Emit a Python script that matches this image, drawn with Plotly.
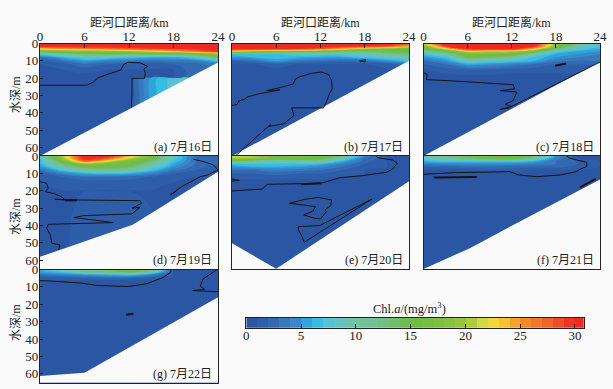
import plotly.graph_objects as go

W, H = 613, 389
FONT = "Liberation Serif, Noto Sans CJK SC"
BG = "#fafafa"

stations = [0, 3, 6, 9, 12, 15, 18, 21, 24]
depths = [0, 1.5, 3, 4.5, 6, 8, 10, 12, 15, 19.6, 20.2, 30, 65]
x_ticks = [0, 6, 12, 18, 24]
y_ticks = [0, 10, 20, 30, 40, 50, 60]
bar_ticks = [0, 5, 10, 15, 20, 25, 30]
bar_levels = [i + 0.5 for i in range(31)]

chl_a = [
    [31]*9, [31]*9,
    [23, 25, 26, 27, 28, 29, 30, 30, 31],
    [16, 17, 18, 18, 20, 22, 24, 27, 30],
    [8, 11, 13, 14, 13, 14, 14, 15, 19],
    [3, 6, 8, 8, 7, 6, 6, 8, 14],
    [1.5, 3, 5.5, 4, 3.5, 3, 3.5, 4, 7],
    [1, 1.5, 2.8, 2, 1.5, 1.5, 2, 2.5, 4],
    [1, 1, 1.5, 1, 1, 1, 1, 3, 3],
    [.5, .5, .5, .5, .5, .5, 1, 3, 3],
    [.5, .5, .5, .5, .8, 5.5, 7.5, 9, 10],
    [.5, .5, .5, .5, .8, 5.5, 7.5, 9, 10],
    [.5, .5, .5, .5, .8, 5.5, 7.5, 9, 10],
]
chl_b = [
    [31, 31, 31, 31, 31, 31, 31, 30, 28],
    [31, 31, 31, 31, 31, 31, 30, 29, 24],
    [31, 31, 31, 30, 28, 24, 20, 18, 16],
    [22, 20, 18, 16, 16, 14, 13, 15, 15],
    [7, 7, 7, 8, 8, 8, 9, 11, 13],
    [5, 6, 6.5, 6, 5.5, 5.5, 7, 8, 9],
    [2, 3, 5.5, 3.5, 3, 2.5, 3, 5, 7],
    [1, 1, 1.5, 1, 1, 1, 1, 1.5, 3],
    [.8]*9, [.5]*9, [.5]*9, [.5]*9, [.5]*9,
]
chl_c = [
    [22, 31, 31, 31, 31, 31, 19, 12, 7],
    [17, 30, 31, 31, 31, 31, 18, 10, 7],
    [15, 22, 31, 31, 31, 24, 14, 8, 6],
    [11, 15, 22, 21, 21, 17, 8, 6, 5],
    [7, 10, 17, 17, 16, 10, 6, 5, 4],
    [5, 7, 14, 13, 11, 7, 5, 4, 3.5],
    [3, 5, 9, 8, 7.5, 6, 3.5, 3, 3],
    [2, 3, 5.5, 5, 4, 3, 2, 2, 2],
    [1, 1.5, 2, 2, 1.5, 1.5, 1.5, 1.5, 1.5],
    [.5]*9, [.5]*9, [.5]*9, [.5]*9,
]
chl_d = [
    [8, 20, 31, 31, 24, 17, 8, 3, 2],
    [7, 19, 31, 28, 21, 16, 8, 3, 2],
    [6, 16, 27, 22, 17, 13, 7, 3, 2],
    [6, 13, 19, 17, 16, 11, 6, 3, 2],
    [5, 10, 15, 15, 14, 9, 5, 2.5, 1.5],
    [3, 7, 11, 12, 11, 7, 3.5, 2, 1],
    [1.5, 4, 6, 6.5, 6, 4, 2, 1.5, 1],
    [1, 2, 3, 3, 2.5, 2, 1.5, 1, 1],
    [1, 1.2, 1.5, 1.5, 1.5, 1.5, 1, 1, 1],
    [1]*9, [1]*9,
    [.8, .8, 1.2, 1.2, 1.2, 1, 1, 1, 1],
    [.8, .8, 1.5, 1.5, 1.5, 1, 1, 1, 1],
]
chl_e = [
    [22, 21, 17, 17, 16, 13, 4, 1, 1],
    [20, 19, 16, 16, 15, 9, 3, 1, 1],
    [13, 11, 9, 10, 11, 6, 2.5, 1, 1],
    [7, 7, 7, 7, 6.5, 4, 2, 1, 1],
    [5, 6, 6, 5.5, 4.5, 3, 1.5, 1, 1],
    [3, 3, 4, 3.5, 3, 2, 1, 1, 1],
    [2, 2, 2.5, 2, 2, 1.5, 1, 1, 1],
    [1.5, 1.5, 1.5, 1.5, 1.5, 1, 1, 1, 1],
    [.5]*9, [.5]*9, [.5]*9, [.5]*9, [.5]*9,
]
chl_f = [
    [9, 12, 14, 16, 17, 14, 5, 1, 1],
    [8, 11, 13, 15, 15, 11, 4, 1, 1],
    [6, 7, 7, 7, 7, 6, 3, 2, 1],
    [4, 4.5, 4.5, 4.5, 4.5, 4, 3, 2, 1],
    [2, 2.5, 3, 3, 2.5, 2.5, 2.5, 1.5, 1],
    [1, 1, 1, 1.5, 1.5, 1, 1, 1, 1],
    [.5]*9, [.5]*9, [.5]*9, [.5]*9, [.5]*9, [.5]*9, [.5]*9,
]
chl_g = [
    [6, 9, 12, 14, 16, 14, 1, 1, 1],
    [5.5, 7, 10, 12, 14, 10, 1, 1, 1],
    [3, 4, 5, 6, 7, 4, 1, 1, 1],
    [1.5, 2, 2.5, 3, 3, 2, 1, 1, 1],
    [1]*9,
    [.5]*9, [.5]*9, [.5]*9, [.5]*9, [.5]*9, [.5]*9, [.5]*9, [.5]*9,
]

bottom_a = ([0, 24], [65, 11])
bottom_b = ([0, 24], [65, 10])
bottom_c = ([0, 24], [65, 10.5])
bottom_d = ([0, 12.5, 24], [58, 39.6, 9])
bottom_e = ([0, 6, 24], [50.2, 64.8, 14.5])
bottom_f = ([0, 6.3, 11.8, 24], [65, 53, 40.6, 13.5])
bottom_g = ([0, 6, 24], [61.3, 59.4, 15.9])

# isoline traces: (km, depth, stroke)
lines_a = [
    ([0, 6.3, 7.2, 7.75, 9, 10.9, 11.3, 11.9, 13.5, 14.2, 14.5, 14, 14.2, 14.1, 12.4, 12.4, 12.3],
     [24.1, 24.1, 22.4, 20, 18, 15.3, 12, 10.9, 11.2, 12.3, 13.2, 14.8, 17.2, 20.1, 20.1, 29, 37], 1),
]
lines_b = [
    ([0, .7, .9, 1.8, 2, 3.6, 6.5, 4.7, 6.3, 8.3, 8.6, 9.2, 10.8, 12.2, 13.1, 13.5, 13.6, 13.2, 12.8, 12.4, 8.1, 8.4, 7, 5, 5.2, .45],
     [35.8, 35.2, 33.3, 32, 31, 29.1, 26.8, 27.2, 25.7, 23.4, 20.5, 19.2, 17.2, 16.5, 18, 21.5, 26.2, 29.1, 33.9, 37.2, 37.2, 41.6, 46.4, 47.9, 46.8, 65], 1),
    ([17.3, 18.1, 18, 17.3], [10, 9.2, 10.7, 10], 1),
]
lines_c = [
    ([0, .5, .4, 3.5, 12.2, 12.4, 10.4, 12.7, 12.2, 11.1, 12, 10.4, 11.7],
     [16.7, 18, 20.9, 21.5, 23.8, 26.2, 27.2, 28.1, 32.9, 35.2, 36.4, 38.1, 37.2], 1),
    ([17.9, 19.4], [12.8, 11.5], 2),
    ([11.7, 24], [37, 10.7], 1),
]
lines_d = [
    ([0, .9, 1.1, .7, 1.8, 2.9, 3.4, 2, 5, 13.5, 13.7, 12.4, 13.5, 12.4, 5.9, 4.6, 9.9, 5.4, 1.1, .9, 1.4, 1.6, 2.7, 2.5],
     [14.8, 15.7, 18.6, 20.5, 21.5, 23.4, 25.3, 24.9, 25.3, 25.7, 27.2, 30.1, 29.5, 33.3, 34.3, 35.4, 38.3, 38.7, 39.3, 41.6, 45.4, 50.2, 51.2, 54], 1),
    ([20.7, 22.1, 23.4, 23.9, 24], [1.9, 3.3, 5.2, 7.1, 8], 1),
    ([24, 22.6, 21.6, 20.3, 19.1, 17.6, 18.5, 18], [8, 10.9, 11.9, 14.8, 17.6, 22.4, 19.5, 21.5], 1),
    ([3.4, 5], [25.5, 25.5], 2),
]
lines_e = [
    ([0, 2.4, 4.1, 4.8, 9.4, 12.1, 14.6, 17.7, 20.9, 21.8, 22.4, 21.8, 19.8, 19.5],
     [20.1, 19.5, 19, 16.3, 15.7, 15.7, 12.5, 11.3, 9.4, 7.5, 4.2, 2.3, 1, 0], 1),
    ([9.4, 12.1], [16.3, 15.7], 2),
    ([0, 1, 0], [13.2, 14, 14.4], 1),
    ([7.8, 9.9, 11.7, 13.5, 13.4, 12.6, 12.8, 12, 11.2, 9.7, 11, 11.3, 7.8],
     [27.2, 24.9, 23.8, 25.3, 28.5, 31, 32, 36.2, 35.8, 33.9, 31.6, 29.1, 27.2], 1),
    ([19, 9.8, 9.4, 9, 9, 11.9, 19], [24.7, 49.6, 45.4, 42.5, 40.6, 40, 24.7], 1),
]
lines_f = [
    ([0, 4.1, 11.8, 12.9, 15.4, 18.6, 20.8, 21.3, 22.2, 22.2, 20.8, 19.7, 19.5],
     [10.5, 9.6, 9, 10.9, 11.9, 10.9, 9, 7.5, 6.1, 3.6, 2.3, 1, 0], 1),
    ([1.4, 7.3], [12.3, 12.1], 2),
    ([21.3, 23.4], [18, 13.2], 2),
]
lines_g = [
    ([0, 5.4, 7.7, 11.9, 14.4, 16.7, 17.6, 17.7], [6.3, 7.7, 9.2, 9.8, 8.2, 4.4, 1.5, 0], 1),
    ([23.9, 23, 22, 21.6, 22.2, 20.6, 24], [0, 2.5, 5.4, 9.6, 11.5, 12.1, 12.8], 1),
    ([11.6, 12.6], [26, 25.5], 2),
]

labels = ["(a) 7月16日", "(b) 7月17日", "(c) 7月18日", "(d) 7月19日",
          "(e) 7月20日", "(f) 7月21日", "(g) 7月22日"]

colorscale_stops = [
    (0, "#2a52a0"), (2, "#2f62ac"), (4, "#3a80c4"), (5, "#3a90d0"), (6, "#22b8ea"),
    (7, "#50c0dc"), (8, "#60c4cc"), (10, "#70c4a0"), (12, "#74c090"), (15, "#6cbb44"),
    (18, "#80c040"), (20, "#9cc83e"), (21, "#c0d040"), (22, "#e6e040"), (23, "#f8d030"),
    (25, "#f79228"), (27, "#f06e2a"), (30, "#ee2a24"), (31, "#ee2a24"),
]
colorscale = [[v / 31, c] for v, c in colorscale_stops]

# panel boxes in pixels: left, right, top, bottom
panels = [
    (40, 218, 43.5, 156, chl_a, bottom_a, lines_a),
    (232, 409, 43.5, 156, chl_b, bottom_b, lines_b),
    (423.5, 600, 43.5, 156, chl_c, bottom_c, lines_c),
    (40, 218, 156, 269, chl_d, bottom_d, lines_d),
    (232, 409, 156, 269, chl_e, bottom_e, lines_e),
    (423.5, 600, 156, 269, chl_f, bottom_f, lines_f),
    (40, 218, 269.5, 382.5, chl_g, bottom_g, lines_g),
]
ylabel_pos = {0: 95, 3: 217, 6: 323}

fig = go.Figure()
layout = {}
annotations = []

def dom_x(a, b):
    return [a / W, b / W]

def dom_y(t, b):
    return [1 - b / H, 1 - t / H]

for i, (l, r, t, b, z, bottom, lines) in enumerate(panels):
    n = i + 1
    xa, ya = f"x{n}", f"y{n}"
    fig.add_trace(go.Contour(
        x=stations, y=depths, z=z, xaxis=xa, yaxis=ya, zmin=0, zmax=31,
        colorscale=colorscale, showscale=False, autocontour=False,
        contours=dict(start=0, end=31, size=1, coloring="fill", showlines=False),
        line=dict(width=0), hoverinfo="skip",
    ))
    bx, by = bottom
    fig.add_trace(go.Scatter(
        x=list(bx) + [24, 0], y=list(by) + [65, 65], xaxis=xa, yaxis=ya, mode="lines",
        fill="toself", fillcolor=BG, line=dict(width=0), hoverinfo="skip", showlegend=False,
    ))
    for lx, ly, w in lines:
        fig.add_trace(go.Scatter(
            x=lx, y=ly, xaxis=xa, yaxis=ya, mode="lines",
            line=dict(color="#141414", width=w), hoverinfo="skip", showlegend=False,
        ))
    top_row = i < 3
    left_col = i in (0, 3, 6)
    layout[f"xaxis{n}"] = dict(
        domain=dom_x(l, r), range=[0, 24], anchor=ya, side="top",
        tickvals=x_ticks, ticktext=[str(v) for v in x_ticks],
        showticklabels=top_row, ticks="inside" if top_row else "", ticklen=4, tickwidth=1,
        ticklabelstandoff=-4,
        tickcolor="#222", showgrid=False, zeroline=False, showline=True, mirror=True,
        linecolor="#222", linewidth=1.2, tickfont=dict(family=FONT, size=13, color="#222"),
    )
    layout[f"yaxis{n}"] = dict(
        domain=dom_y(t, b), range=[65, 0], anchor=xa,
        tickvals=y_ticks, ticktext=[str(v) for v in y_ticks],
        showticklabels=left_col, ticks="inside" if left_col else "", ticklen=3, tickwidth=1,
        ticklabelstandoff=-2,
        tickcolor="#222", showgrid=False, zeroline=False, showline=True, mirror=True,
        linecolor="#222", linewidth=1.2, tickfont=dict(family=FONT, size=13, color="#222"),
    )
    annotations.append(dict(
        text=labels[i], xref="paper", yref="paper", x=(r - 4) / W, y=1 - (b - 9) / H,
        xanchor="right", yanchor="middle", showarrow=False,
        font=dict(family=FONT, size=12, color="#222"),
    ))
    if top_row:
        annotations.append(dict(
            text="距河口距离/km", xref="paper", yref="paper", x=(l + r) / 2 / W, y=1 - 22 / H,
            xanchor="center", yanchor="middle", showarrow=False,
            font=dict(family=FONT, size=12, color="#222"),
        ))
    if left_col:
        annotations.append(dict(
            text="水深/m", xref="paper", yref="paper", x=16 / W, y=1 - ylabel_pos[i] / H,
            xanchor="center", yanchor="middle", showarrow=False, textangle=-90,
            font=dict(family=FONT, size=12, color="#222"),
        ))

# colour bar
fig.add_trace(go.Heatmap(
    x=bar_levels, y=[0, 1], z=[bar_levels, bar_levels], xaxis="x8", yaxis="y8",
    zmin=0, zmax=31, colorscale=colorscale, showscale=False, hoverinfo="skip",
))
layout["xaxis8"] = dict(
    domain=dom_x(246.3, 583.7), range=[0, 30.8], anchor="y8", side="bottom",
    tickvals=bar_ticks, ticks="inside", ticklen=4, tickcolor="#222", showgrid=False,
    ticklabelstandoff=-4,
    zeroline=False, showline=True, mirror=True, linecolor="#222", linewidth=1,
    tickfont=dict(family=FONT, size=13, color="#222"),
)
layout["yaxis8"] = dict(
    domain=dom_y(317.7, 327.7), range=[0, 1], anchor="x8", showticklabels=False, ticks="",
    showgrid=False, zeroline=False, showline=True, mirror=True, linecolor="#222", linewidth=1,
)
annotations.append(dict(
    text="Chl.<i>a</i>/(mg/m<sup>3</sup>)", xref="paper", yref="paper", x=410 / W, y=1 - 308 / H,
    xanchor="center", yanchor="middle", showarrow=False,
    font=dict(family=FONT, size=12.5, color="#222"),
))

fig.update_layout(
    width=W, height=H, margin=dict(l=0, r=0, t=0, b=0, pad=0, autoexpand=False),
    paper_bgcolor=BG, plot_bgcolor=BG,
    showlegend=False, annotations=annotations, **layout,
)
fig.write_html(
    "out.html",
    config={"displayModeBar": False},
    post_script="document.body.style.margin='0';document.body.style.background='#fafafa';",
)
